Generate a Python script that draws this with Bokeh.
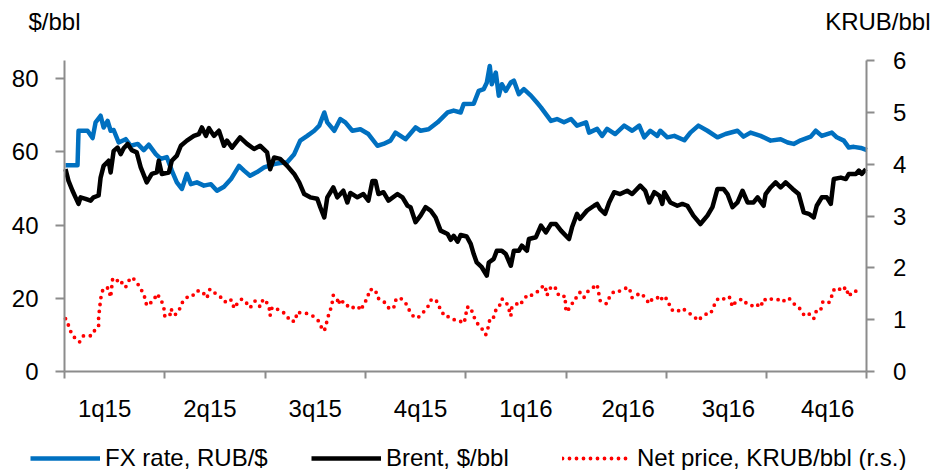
from bokeh.plotting import figure
from bokeh.models import (Range1d, LinearAxis, FixedTicker, Label, Legend, LegendItem,
                          ColumnDataSource, CustomJSTickFormatter)
from bokeh.embed import file_html
from bokeh.resources import INLINE

# ---- data (x in quarters since 1 Jan 2015) ----
quarter_labels = ["1q15", "2q15", "3q15", "4q15", "1q16", "2q16", "3q16", "4q16"]
label_pos = [0.40, 1.45, 2.50, 3.55, 4.60, 5.62, 6.62, 7.61]
quarter_edges = [0, 1, 2, 3, 4, 5, 6, 7, 8]

fx_q = [0.01,0.13,0.14,0.23,0.28,0.31,0.36,0.39,0.43,0.46,
        0.49,0.54,0.61,0.66,0.73,0.79,0.84,0.91,0.96,1.02,
        1.07,1.12,1.17,1.22,1.26,1.32,1.39,1.46,1.52,1.59,
        1.66,1.74,1.79,1.85,1.92,1.99,2.09,2.15,2.22,2.29,
        2.35,2.42,2.49,2.54,2.59,2.62,2.69,2.75,2.80,2.87,
        2.95,3.03,3.12,3.18,3.25,3.30,3.40,3.50,3.55,3.63,
        3.72,3.82,3.88,3.95,3.98,4.08,4.13,4.18,4.21,4.24,
        4.26,4.30,4.33,4.36,4.40,4.45,4.48,4.53,4.58,4.65,
        4.71,4.75,4.85,4.91,4.98,5.05,5.11,5.20,5.23,5.31,
        5.36,5.41,5.49,5.58,5.66,5.73,5.78,5.84,5.91,5.94,
        6.01,6.08,6.18,6.24,6.32,6.41,6.51,6.59,6.71,6.77,
        6.84,6.94,7.04,7.14,7.21,7.27,7.34,7.44,7.49,7.55,
        7.65,7.70,7.77,7.82,7.87,7.94,8.00]
fx_rate = [56.4,56.4,65.8,65.8,63.8,68.1,69.9,66.7,68.5,65.8,
           66.0,62.6,63.5,61.7,62.2,60.5,62.0,59.4,58.1,58.6,
           54.9,51.7,49.9,54.0,51.2,51.7,50.8,51.2,49.4,50.5,
           52.6,56.2,54.9,53.5,54.5,55.8,56.7,57.0,57.2,59.4,
           63.1,64.4,65.8,67.2,70.8,68.1,65.8,69.0,68.1,65.8,
           66.2,64.9,61.7,62.2,63.1,65.3,63.5,66.7,65.8,66.2,
           68.1,70.8,71.3,70.8,73.1,73.2,76.7,77.2,78.9,83.5,
           78.5,81.7,75.4,78.5,76.7,79.0,79.5,75.8,77.2,75.4,
           73.5,72.2,68.5,69.0,68.1,69.0,67.2,68.1,65.3,66.3,
           64.4,66.3,64.9,67.2,65.8,67.2,64.0,65.8,64.4,65.8,
           64.0,64.4,63.2,65.3,67.2,65.8,64.0,64.9,65.8,64.2,
           65.3,64.4,63.1,63.5,62.6,62.2,63.2,64.2,65.8,64.4,
           65.3,64.0,63.1,61.2,61.4,61.1,60.5]

brent_q = [0.01,0.04,0.08,0.11,0.14,0.16,0.21,0.26,0.29,0.34,
           0.36,0.39,0.44,0.46,0.49,0.53,0.56,0.59,0.63,0.67,
           0.72,0.76,0.82,0.87,0.92,0.94,0.97,1.04,1.07,1.12,
           1.16,1.22,1.29,1.34,1.37,1.41,1.44,1.49,1.54,1.59,
           1.62,1.67,1.75,1.82,1.89,1.95,2.02,2.05,2.09,2.15,
           2.22,2.29,2.34,2.39,2.45,2.52,2.55,2.59,2.62,2.68,
           2.72,2.78,2.82,2.85,2.92,2.98,3.03,3.07,3.10,3.13,
           3.18,3.23,3.32,3.37,3.42,3.45,3.50,3.55,3.60,3.65,
           3.70,3.75,3.82,3.85,3.88,3.92,3.95,4.01,4.05,4.08,
           4.11,4.16,4.21,4.23,4.28,4.31,4.36,4.40,4.45,4.48,
           4.53,4.56,4.61,4.63,4.70,4.75,4.80,4.85,4.90,4.95,
           5.03,5.06,5.11,5.14,5.21,5.28,5.31,5.34,5.39,5.43,
           5.48,5.54,5.61,5.66,5.74,5.79,5.83,5.88,5.93,5.96,
           5.98,6.04,6.11,6.16,6.21,6.27,6.34,6.41,6.46,6.51,
           6.57,6.61,6.66,6.71,6.76,6.81,6.87,6.91,6.97,6.99,
           7.04,7.09,7.14,7.19,7.26,7.32,7.37,7.42,7.47,7.50,
           7.55,7.60,7.64,7.67,7.74,7.79,7.82,7.89,7.92,7.95,
           7.99]
brent = [55.3,52.1,49.4,47.6,45.8,47.6,47.2,46.7,47.6,48.1,
         53.0,56.2,57.6,54.4,60.3,61.2,59.4,61.0,62.2,60.5,
         59.9,55.8,51.7,54.0,54.4,57.6,54.0,54.4,57.6,59.0,
         61.7,63.1,64.4,64.9,66.7,64.4,66.5,64.4,65.8,61.7,
         63.1,61.2,64.0,62.2,60.8,61.7,59.9,55.3,58.5,58.1,
         56.2,54.0,51.7,48.5,47.6,47.2,44.9,42.1,47.6,50.3,
         47.6,49.4,46.2,48.8,47.6,48.5,46.7,52.1,52.1,48.5,
         49.0,46.7,48.5,47.6,45.3,44.9,40.8,42.6,44.9,44.0,
         42.1,38.5,37.6,36.0,37.1,35.5,37.3,36.9,34.9,32.1,
         29.8,28.5,26.2,29.8,30.8,33.0,33.0,32.1,28.9,33.0,
         33.0,34.4,33.0,36.2,36.7,39.9,38.0,40.3,40.3,38.5,
         36.2,39.4,43.1,41.7,44.0,45.3,45.8,44.4,43.1,46.2,
         49.0,48.5,49.4,48.5,50.8,49.4,46.2,49.0,48.1,45.8,
         49.0,46.2,45.3,45.8,45.3,42.6,40.3,42.6,44.9,49.9,
         49.9,48.5,44.9,46.2,49.4,46.2,46.2,47.6,45.3,48.5,
         50.3,51.7,50.3,51.7,49.9,48.5,43.5,43.1,42.1,45.3,
         47.6,47.6,45.8,52.6,53.0,52.6,54.0,54.0,54.9,54.0,
         55.3]

net_q = [0.01,0.04,0.07,0.11,0.15,0.19,0.27,0.30,0.34,0.34,
         0.35,0.36,0.38,0.41,0.44,0.46,0.48,0.52,0.54,0.58,
         0.61,0.64,0.67,0.71,0.74,0.77,0.80,0.82,0.89,0.92,
         0.96,0.99,1.00,1.05,1.06,1.10,1.14,1.17,1.22,1.27,
         1.31,1.36,1.39,1.42,1.45,1.51,1.56,1.60,1.63,1.67,
         1.69,1.74,1.77,1.82,1.85,1.90,1.95,1.98,2.00,2.04,
         2.05,2.07,2.15,2.21,2.25,2.30,2.32,2.37,2.42,2.47,
         2.53,2.56,2.59,2.61,2.63,2.65,2.67,2.68,2.72,2.73,
         2.75,2.81,2.85,2.88,2.92,2.96,2.98,3.02,3.04,3.10,
         3.12,3.18,3.23,3.28,3.30,3.33,3.37,3.42,3.44,3.48,
         3.52,3.58,3.62,3.66,3.68,3.72,3.75,3.80,3.83,3.88,
         3.92,3.98,4.00,4.01,4.05,4.07,4.10,4.14,4.18,4.20,
         4.22,4.24,4.27,4.30,4.33,4.36,4.40,4.43,4.45,4.46,
         4.50,4.52,4.55,4.58,4.62,4.66,4.71,4.75,4.79,4.81,
         4.85,4.89,4.91,4.96,4.99,5.00,5.03,5.06,5.08,5.12,
         5.14,5.18,5.22,5.27,5.31,5.34,5.38,5.41,5.44,5.49,
         5.54,5.58,5.63,5.66,5.71,5.75,5.79,5.83,5.86,5.91,
         5.94,5.97,6.02,6.04,6.09,6.12,6.16,6.21,6.24,6.27,
         6.32,6.35,6.40,6.44,6.47,6.50,6.55,6.59,6.63,6.66,
         6.69,6.73,6.76,6.81,6.86,6.89,6.94,6.97,7.01,7.05,
         7.10,7.16,7.20,7.23,7.27,7.32,7.34,7.38,7.43,7.47,
         7.50,7.54,7.56,7.61,7.64,7.66,7.71,7.75,7.79,7.82,
         7.86,7.90,7.95]
net_price = [1.02,0.89,0.73,0.63,0.57,0.69,0.69,0.79,0.87,1.05,
             1.21,1.40,1.56,1.63,1.60,1.43,1.79,1.79,1.69,1.72,
             1.63,1.75,1.82,1.75,1.66,1.56,1.43,1.27,1.37,1.50,
             1.40,1.24,1.07,1.07,1.21,1.09,1.17,1.32,1.43,1.44,
             1.55,1.56,1.50,1.42,1.59,1.50,1.43,1.34,1.40,1.37,
             1.22,1.36,1.40,1.31,1.23,1.36,1.25,1.39,1.39,1.24,
             1.08,1.24,1.18,1.10,0.97,0.97,1.15,1.12,1.12,1.08,
             0.98,0.86,0.78,0.92,1.07,1.18,1.34,1.47,1.40,1.29,
             1.40,1.26,1.29,1.23,1.26,1.18,1.31,1.40,1.58,1.58,
             1.42,1.36,1.23,1.21,1.37,1.43,1.39,1.27,1.17,1.06,
             1.03,1.15,1.24,1.40,1.40,1.34,1.18,1.05,1.06,1.00,
             1.00,0.93,1.05,1.24,1.24,1.11,0.98,0.86,0.79,0.71,
             0.82,1.00,1.00,1.18,1.23,1.40,1.36,1.21,1.07,1.24,
             1.27,1.34,1.31,1.39,1.49,1.47,1.53,1.62,1.66,1.47,
             1.63,1.64,1.51,1.43,1.46,1.15,1.21,1.30,1.40,1.44,
             1.53,1.43,1.55,1.62,1.68,1.37,1.31,1.31,1.47,1.56,
             1.55,1.60,1.62,1.42,1.48,1.51,1.42,1.31,1.40,1.43,
             1.36,1.46,1.37,1.21,1.15,1.17,1.22,1.15,1.11,1.07,
             0.98,1.05,1.11,1.11,1.24,1.38,1.43,1.38,1.43,1.25,
             1.34,1.38,1.40,1.29,1.27,1.31,1.24,1.40,1.36,1.40,
             1.40,1.34,1.42,1.40,1.31,1.24,1.19,1.07,1.11,1.02,
             1.19,1.19,1.34,1.31,1.37,1.56,1.62,1.55,1.63,1.45,
             1.55,1.55,1.56]

left_ticks = [0, 20, 40, 60, 80]
right_ticks = [0, 1, 2, 3, 4, 5, 6]
left_max = 85
right_max = 6
n_quarters = 8

# ---- layout geometry (pixels on the canvas) ----
W, H = 933, 470
X0, PXQ = 64.0, 100.3          # x of the first quarter edge, pixels per quarter
Y0, YTOP = 371.0, 60.0         # pixel rows of value 0 and of the axis top
ppl = (Y0 - YTOP) / left_max   # pixels per $/bbl
ppr = (Y0 - YTOP) / right_max  # pixels per KRUB/bbl

FONT = "Liberation Sans"
FS = "24px"
AXIS_COL = "#8c8c8c"

p = figure(width=W, height=H, output_backend="svg", toolbar_location=None,
           x_range=Range1d(-X0 / PXQ, (W - X0) / PXQ),
           y_range=Range1d((Y0 - H) / ppl, Y0 / ppl),
           min_border_left=0, min_border_right=0, min_border_top=0, min_border_bottom=0)
p.extra_y_ranges = {"r": Range1d((Y0 - H) / ppr, Y0 / ppr)}
p.xgrid.visible = False
p.ygrid.visible = False
p.outline_line_color = None
p.background_fill_color = "white"
p.border_fill_color = "white"

def style_axis(ax, tick_out, standoff):
    ax.axis_line_color = AXIS_COL
    ax.axis_line_width = 2
    ax.major_tick_line_color = AXIS_COL
    ax.major_tick_line_width = 2
    ax.major_tick_out = tick_out
    ax.major_tick_in = 0
    ax.minor_tick_line_color = None
    ax.major_label_standoff = standoff
    ax.major_label_text_font = FONT
    ax.major_label_text_font_size = FS
    ax.major_label_text_color = "black"

# x axis
xa = p.xaxis[0]
style_axis(xa, 0, 16)
xa.fixed_location = 0
xa.bounds = (0, n_quarters)
xa.ticker = FixedTicker(ticks=label_pos, minor_ticks=quarter_edges)
xa.formatter = CustomJSTickFormatter(args=dict(labels=quarter_labels), code="return labels[index];")
xa.major_tick_line_color = None
xa.minor_tick_line_color = AXIS_COL
xa.minor_tick_line_width = 2
xa.minor_tick_out = 7
xa.minor_tick_in = 0

# left axis
ya = p.yaxis[0]
style_axis(ya, 9, 17)
ya.fixed_location = 0
ya.bounds = (0, left_max)
ya.ticker = FixedTicker(ticks=left_ticks)

# right axis
ra = LinearAxis(y_range_name="r", ticker=FixedTicker(ticks=right_ticks))
style_axis(ra, 8, 18)
ra.fixed_location = n_quarters
ra.bounds = (0, right_max)
p.add_layout(ra, "right")

src_fx = ColumnDataSource(dict(x=fx_q, y=fx_rate))
src_br = ColumnDataSource(dict(x=brent_q, y=brent))
src_np = ColumnDataSource(dict(x=net_q, y=net_price))

r_fx = p.line("x", "y", source=src_fx, line_color="#0070C0", line_width=4.5, line_join="round")
r_br = p.line("x", "y", source=src_br, line_color="black", line_width=4.5, line_join="round")
r_np = p.line("x", "y", source=src_np, line_color="#FF0000", line_width=3.8,
              line_dash="0 7", line_cap="round", line_join="round", y_range_name="r")

# axis unit labels
p.add_layout(Label(x=(28 - X0) / PXQ, y=(Y0 - 21) / ppl, text="$/bbl", text_font=FONT,
                   text_font_size=FS, text_align="left", text_baseline="middle",
                   text_color="black"))
p.add_layout(Label(x=(930 - X0) / PXQ, y=(Y0 - 21) / ppl, text="KRUB/bbl", text_font=FONT,
                   text_font_size=FS, text_align="right", text_baseline="middle",
                   text_color="black"))

# legend: three single-item legends along the bottom
legend_items = [("FX rate, RUB/$", r_fx, 30), ("Brent, $/bbl", r_br, 311),
                ("Net price, KRUB/bbl (r.s.)", r_np, 562)]
for lab, rend, px in legend_items:
    lg = Legend(items=[LegendItem(label=lab, renderers=[rend])],
                location=(px, -2), orientation="horizontal",
                border_line_color=None, background_fill_alpha=0, padding=0, margin=0,
                glyph_width=70, glyph_height=24, label_height=24, label_standoff=5,
                label_text_font=FONT, label_text_font_size=FS, label_text_color="black",
                spacing=0)
    p.add_layout(lg)

open("out.html", "w").write(file_html(p, INLINE))
